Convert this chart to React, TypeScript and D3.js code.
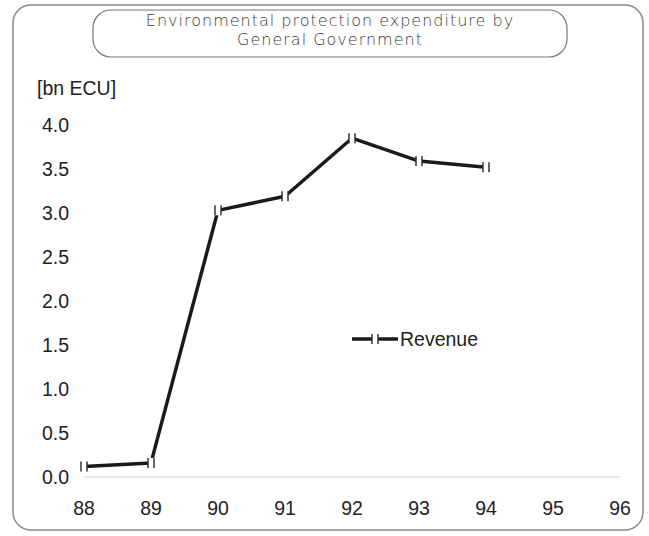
import { useEffect, useRef } from 'react';
import * as d3 from 'd3';

const years = [88, 89, 90, 91, 92, 93, 94];
const revenue = [0.12, 0.16, 3.03, 3.19, 3.85, 3.59, 3.52];
const xTicks = [88, 89, 90, 91, 92, 93, 94, 95, 96];
const yTicks = [0, 0.5, 1, 1.5, 2, 2.5, 3, 3.5, 4];
const titleLines = ['Environmental protection expenditure by', 'General Government'];
const seriesName = 'Revenue';
const unitLabel = '[bn ECU]';

const W = 649;
const H = 536;

export default function App() {
  const svgRef = useRef<SVGSVGElement>(null);

  useEffect(() => {
    if (!svgRef.current) return;
    const svg = d3.select(svgRef.current);
    svg.selectAll('*').remove();

    const font = '"Liberation Sans", Arial, sans-serif';
    const fs = '19.5px';

    const x = d3.scaleLinear().domain([88, 96]).range([84, 620]);
    const y = d3.scaleLinear().domain([0, 4]).range([477, 125]);

    // outer frame
    svg
      .append('rect')
      .attr('x', 13)
      .attr('y', 5)
      .attr('width', 630)
      .attr('height', 525)
      .attr('rx', 18)
      .attr('fill', '#fff')
      .attr('stroke', '#8a8a8a')
      .attr('stroke-width', 1.5);

    // title box
    svg
      .append('rect')
      .attr('x', 93)
      .attr('y', 10)
      .attr('width', 474)
      .attr('height', 47)
      .attr('rx', 18)
      .attr('fill', '#fff')
      .attr('stroke', '#777')
      .attr('stroke-width', 1.2);

    svg
      .selectAll('.title')
      .data(titleLines)
      .enter()
      .append('text')
      .attr('x', 330)
      .attr('y', (_, i) => 26 + i * 19)
      .attr('text-anchor', 'middle')
      .attr('font-family', '"DejaVu Sans", sans-serif')
      .attr('font-weight', 300)
      .attr('font-size', '16px')
      .attr('letter-spacing', '1px')
      .attr('fill', '#3a3a3a')
      .text((d) => d);

    // unit label
    svg
      .append('text')
      .attr('x', 37)
      .attr('y', 95)
      .attr('font-family', font)
      .attr('font-size', fs)
      .attr('fill', '#222')
      .text(unitLabel);

    // y tick labels
    svg
      .selectAll('.ytick')
      .data(yTicks)
      .enter()
      .append('text')
      .attr('x', 69)
      .attr('y', (d) => y(d))
      .attr('dy', '0.35em')
      .attr('text-anchor', 'end')
      .attr('font-family', font)
      .attr('font-size', fs)
      .attr('fill', '#222')
      .text((d) => d.toFixed(1));

    // x axis line
    svg
      .append('line')
      .attr('x1', x(88))
      .attr('x2', x(96))
      .attr('y1', y(0))
      .attr('y2', y(0))
      .attr('stroke', '#d4d4d4')
      .attr('stroke-width', 1);

    svg
      .selectAll('.xtick')
      .data(xTicks)
      .enter()
      .append('text')
      .attr('x', (d) => x(d))
      .attr('y', 515)
      .attr('text-anchor', 'middle')
      .attr('font-family', font)
      .attr('font-size', fs)
      .attr('fill', '#222')
      .text((d) => String(d));

    // line
    const pts = years.map((yr, i) => [x(yr), y(revenue[i])] as [number, number]);
    const line = d3.line<[number, number]>();
    svg
      .append('path')
      .attr('d', line(pts))
      .attr('fill', 'none')
      .attr('stroke', '#1a1a1a')
      .attr('stroke-width', 3.5)
      .attr('stroke-linejoin', 'round');

    const marker = (g: d3.Selection<SVGGElement, unknown, null, undefined>) => {
      g.append('rect')
        .attr('x', -3)
        .attr('y', -5)
        .attr('width', 6)
        .attr('height', 10)
        .attr('fill', '#fff');
      g.append('line')
        .attr('x1', -3)
        .attr('x2', -3)
        .attr('y1', -5)
        .attr('y2', 5)
        .attr('stroke', '#333')
        .attr('stroke-width', 1.5);
      g.append('line')
        .attr('x1', 3)
        .attr('x2', 3)
        .attr('y1', -5)
        .attr('y2', 5)
        .attr('stroke', '#333')
        .attr('stroke-width', 1.5);
    };

    pts.forEach((p) => {
      const g = svg.append('g').attr('transform', `translate(${p[0]},${p[1]})`);
      marker(g);
    });

    // legend
    const lg = svg.append('g').attr('transform', 'translate(352,339)');
    lg.append('line')
      .attr('x1', 0)
      .attr('x2', 46)
      .attr('y1', 0)
      .attr('y2', 0)
      .attr('stroke', '#1a1a1a')
      .attr('stroke-width', 3.5);
    const lm = lg.append('g').attr('transform', 'translate(23,0)');
    marker(lm);
    lg.append('text')
      .attr('x', 48)
      .attr('y', 0)
      .attr('dy', '0.35em')
      .attr('font-family', font)
      .attr('font-size', fs)
      .attr('fill', '#222')
      .text(seriesName);
  }, []);

  return (
    <svg
      ref={svgRef}
      width={W}
      height={H}
      style={{ position: 'absolute', left: 0, top: 0, background: '#fff' }}
    />
  );
}
